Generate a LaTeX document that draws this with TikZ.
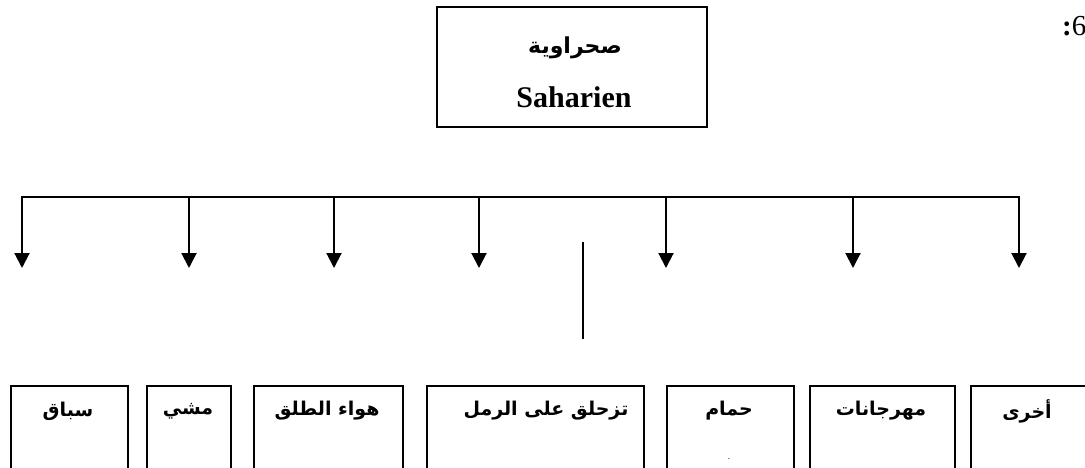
\documentclass[tikz,border=0pt]{standalone}
\usepackage{fontspec}
\setmainfont{Liberation Serif}
\newfontfamily\arabicfont[Script=Arabic]{DejaVu Sans}
\TeXXeTstate=1
\usetikzlibrary{arrows.meta,calc}
\begin{document}
\begin{tikzpicture}[x=1pt,y=-1pt,
  box/.style={draw, line width=1.6pt, inner sep=0pt},
  ar/.style={inner sep=0pt, font=\arabicfont\bfseries\fontsize{19}{19}\selectfont},
  conn/.style={line width=2pt, line join=miter},
  tip/.style={-{Triangle[width=15pt,length=15pt]}},
  arr/.style={conn, tip}]
\useasboundingbox (0,0) rectangle (1085,467);
\clip (0,0) rectangle (1085,467);

% top box
\node[box, minimum width=270pt, minimum height=120pt] (top) at (572,67) {};
\node[ar, font=\arabicfont\bfseries\fontsize{22}{22}\selectfont] (topar) at (575,48) {\beginR صحراوية\endR};
\node[inner sep=0pt, font=\bfseries\fontsize{30}{30}\selectfont] (toplat) at (574,97) {Saharien};

% number at top right
\node[inner sep=0pt, anchor=west, font=\fontsize{29}{29}\selectfont] (num) at (1062,26) {{\bfseries :}6};

% bus
\coordinate (b1) at (22,197);
\coordinate (b2) at (189,197);
\coordinate (b3) at (334,197);
\coordinate (b4) at (479,197);
\coordinate (b5) at (666,197);
\coordinate (b6) at (853,197);
\coordinate (b7) at (1019,197);
\coordinate (e1) at (22,268);
\coordinate (e2) at (189,268);
\coordinate (e3) at (334,268);
\coordinate (e4) at (479,268);
\coordinate (e5) at (666,268);
\coordinate (e6) at (853,268);
\coordinate (e7) at (1019,268);
\draw[conn, {Triangle[width=15pt,length=15pt]}-{Triangle[width=15pt,length=15pt]}] (e1) -- (b1) -- (b7) -- (e7);
\draw[arr] (b2) -- (e2);
\draw[arr] (b3) -- (e3);
\draw[arr] (b4) -- (e4);
\draw[arr] (b5) -- (e5);
\draw[arr] (b6) -- (e6);

% free vertical line
\coordinate (v1) at (583,242);
\coordinate (v2) at (583,339);
\draw[line width=1.5pt] (v1) -- (v2);

% bottom boxes
\node[box, anchor=north west, minimum width=117pt, minimum height=120pt] (n1) at (10,385) {};
\node[box, anchor=north west, minimum width=84pt, minimum height=120pt] (n2) at (146,385) {};
\node[box, anchor=north west, minimum width=149pt, minimum height=120pt] (n3) at (253,385) {};
\node[box, anchor=north west, minimum width=217pt, minimum height=120pt] (n4) at (426,385) {};
\node[box, anchor=north west, minimum width=127pt, minimum height=120pt] (n5) at (666,385) {};
\node[box, anchor=north west, minimum width=145pt, minimum height=120pt] (n6) at (809,385) {};
\node[box, anchor=north west, minimum width=130pt, minimum height=120pt] (n7) at (970,385) {};

\node[ar] (t1) at (68,411) {\beginR سباق\endR};
\node[ar] (t2) at (188,411) {\beginR مشي\endR};
\node[ar] (t3) at (327,411) {\beginR هواء الطلق\endR};
\node[ar] (t4) at (546,411) {\beginR تزحلق على الرمل\endR};
\node[ar] (t5) at (729,411) {\beginR حمام\endR};
\node[ar] (t6) at (881,411) {\beginR مهرجانات\endR};
\node[ar] (t7) at (1027,411) {\beginR أخرى\endR};
\node[inner sep=0pt, font=\fontsize{9}{9}\selectfont] (dot) at (729,459) {.};
\end{tikzpicture}
\end{document}
